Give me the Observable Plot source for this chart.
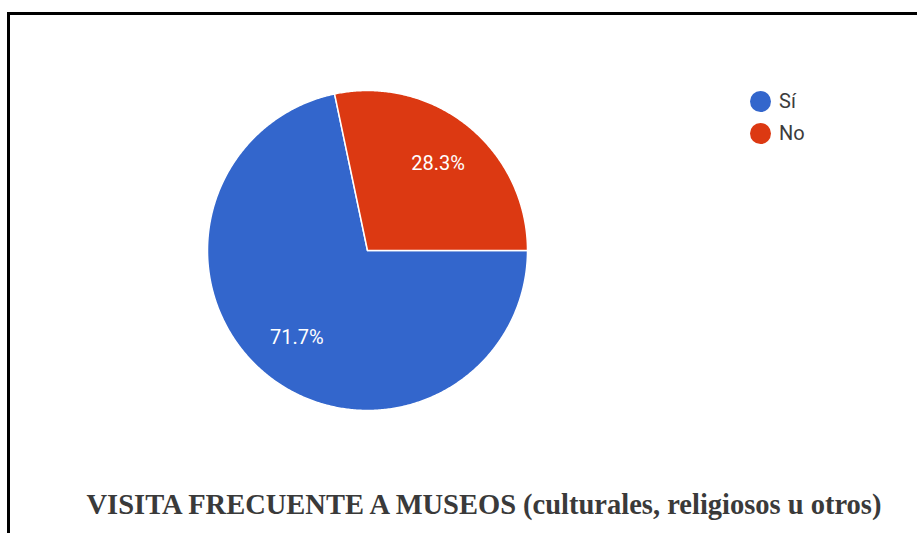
<!DOCTYPE html>
<html>
<head>
<meta charset="utf-8">
<script src="https://cdn.jsdelivr.net/npm/d3@7"></script>
<script src="https://cdn.jsdelivr.net/npm/@observablehq/plot@0.6"></script>
<style>
  html, body { margin: 0; padding: 0; background: #fff; }
  #wrap { position: relative; width: 917px; height: 533px; overflow: hidden; }
  #frame { position: absolute; left: 7px; top: 12px; width: 1000px; height: 1000px;
           border-top: 3px solid #000; border-left: 3px solid #000; box-sizing: border-box; }
  #chart { position: absolute; left: 0; top: 0; }
  #legend { position: absolute; left: 750px; top: 85px; font-family: Roboto, Arial, sans-serif;
            font-size: 20px; color: #3c3c3c; }
  .item { display: flex; align-items: center; height: 32px; }
  .sw { width: 21px; height: 21px; border-radius: 50%; margin-right: 8px; }
  #title { position: absolute; left: 0; width: 968px; top: 489px; text-align: center;
           font-family: "Liberation Serif", "Times New Roman", serif; font-weight: bold;
           font-size: 28.5px; color: #3a3a3a; white-space: nowrap; }
</style>
</head>
<body>
<div id="wrap">
  <div id="frame"></div>
  <div id="chart"></div>
  <div id="legend"></div>
  <div id="title"></div>
</div>
<script>
// ---- data ----
const categories = ["Sí", "No"];
const percents = [71.7, 28.3];
const colors = ["#3366cc", "#dc3912"];
const titleText = "VISITA FRECUENTE A MUSEOS (culturales, religiosos u otros)";

// ---- layout ----
const W = 917, H = 533;
const CX = 367, CY = 250, R = 160;
const START = 90; // degrees clockwise from 12 o'clock

// build slice polygons from the values
const total = d3.sum(percents);
let acc = START;
const slices = categories.map((c, i) => {
  const a0 = acc, a1 = acc + percents[i] / total * 360;
  acc = a1;
  return {cat: c, pct: percents[i], a0, a1};
});
const pts = [];
for (const s of slices) {
  pts.push({cat: s.cat, x: 0, y: 0});
  const n = Math.max(2, Math.ceil((s.a1 - s.a0) / 0.5));
  for (let k = 0; k <= n; k++) {
    const a = (s.a0 + (s.a1 - s.a0) * k / n) * Math.PI / 180;
    pts.push({cat: s.cat, x: Math.sin(a), y: Math.cos(a)});
  }
}
const labels = slices.map(s => {
  const m = (s.a0 + s.a1) / 2 * Math.PI / 180;
  return {cat: s.cat, text: s.pct.toFixed(1) + "%", x: 0.7 * Math.sin(m), y: 0.7 * Math.cos(m)};
});

const chart = Plot.plot({
  width: W, height: H,
  margin: 0,
  x: {domain: [-CX / R, (W - CX) / R], range: [0, W], axis: null},
  y: {domain: [-(H - CY) / R, CY / R], range: [H, 0], axis: null},
  color: {domain: categories, range: colors},
  style: {background: "transparent"},
  marks: [
    Plot.line(pts, {x: "x", y: "y", z: "cat", fill: "cat", stroke: "#fff", strokeWidth: 1.5,
                    curve: "linear-closed", strokeLinejoin: "round"}),
    Plot.text(labels, {x: "x", y: "y", text: "text", fill: "#fff", fontSize: 20,
                       fontFamily: "Roboto, Arial, sans-serif"})
  ]
});
document.getElementById("chart").appendChild(chart);

const leg = document.getElementById("legend");
categories.forEach((c, i) => {
  const it = document.createElement("div");
  it.className = "item";
  const sw = document.createElement("div");
  sw.className = "sw";
  sw.style.background = colors[i];
  const t = document.createElement("span");
  t.textContent = c;
  it.appendChild(sw); it.appendChild(t);
  leg.appendChild(it);
});
document.getElementById("title").textContent = titleText;
</script>
</body>
</html>
